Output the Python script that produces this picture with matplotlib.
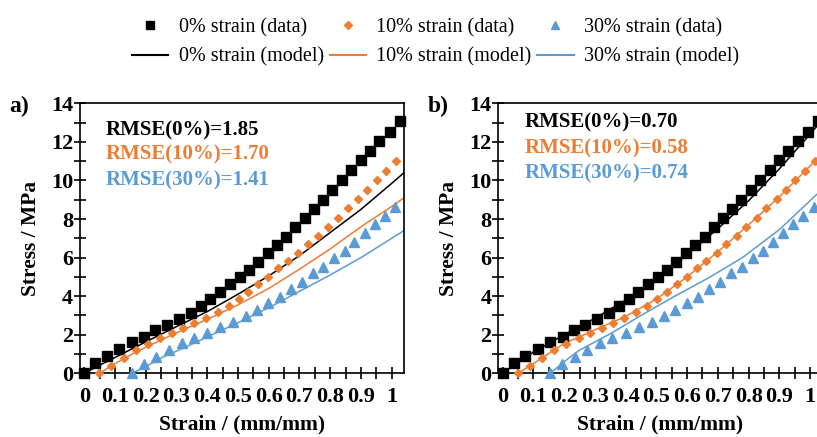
import numpy as np
import matplotlib
matplotlib.use("Agg")
import matplotlib.pyplot as plt
from matplotlib.ticker import MultipleLocator, FixedLocator, FixedFormatter

plt.rcParams['font.family'] = ['Liberation Serif', 'DejaVu Serif']

# --- experimental data (same in both panels) ---
strain_0 = [0, 0.036, 0.074, 0.114, 0.155, 0.195, 0.231, 0.268, 0.308, 0.346,
            0.379, 0.410, 0.440, 0.473, 0.506, 0.536, 0.565, 0.597, 0.627, 0.657,
            0.686, 0.717, 0.747, 0.776, 0.807, 0.838, 0.868, 0.899, 0.928, 0.960,
            0.993, 1.026]
stress_0 = [0, 0.55, 0.91, 1.24, 1.61, 1.90, 2.24, 2.50, 2.80, 3.14,
            3.51, 3.85, 4.23, 4.61, 5.01, 5.36, 5.79, 6.22, 6.65, 7.08,
            7.60, 8.03, 8.52, 8.98, 9.50, 10.02, 10.54, 11.06, 11.52, 12.04,
            12.49, 13.09]

strain_10 = [0.049, 0.088, 0.128, 0.168, 0.207, 0.247, 0.285, 0.322, 0.358, 0.395,
             0.434, 0.471, 0.503, 0.533, 0.566, 0.598, 0.631, 0.663, 0.696, 0.728,
             0.761, 0.793, 0.826, 0.858, 0.891, 0.921, 0.952, 0.983, 1.015]
stress_10 = [0, 0.38, 0.81, 1.21, 1.52, 1.81, 2.07, 2.33, 2.59, 2.87,
             3.20, 3.50, 3.85, 4.23, 4.61, 5.01, 5.44, 5.84, 6.25, 6.70,
             7.12, 7.60, 8.03, 8.55, 9.02, 9.50, 10.02, 10.50, 11.00]

strain_30 = [0.155, 0.193, 0.234, 0.274, 0.317, 0.357, 0.400, 0.442, 0.485, 0.525,
             0.561, 0.598, 0.636, 0.672, 0.707, 0.744, 0.777, 0.813, 0.847, 0.878,
             0.912, 0.945, 0.977, 1.012]
stress_30 = [0, 0.48, 0.86, 1.21, 1.55, 1.81, 2.10, 2.38, 2.68, 2.99,
             3.28, 3.66, 3.97, 4.35, 4.75, 5.18, 5.53, 5.96, 6.36, 6.82,
             7.29, 7.72, 8.15, 8.64]

# --- model curves, panel a ---
model_a_0_x = [0, 0.05, 0.1, 0.2, 0.3, 0.4, 0.5, 0.6, 0.7, 0.8, 0.9, 1.0, 1.04]
model_a_0_y = [0, 0.42, 0.82, 1.63, 2.42, 3.2, 4.1, 5.05, 6.1, 7.3, 8.5, 9.85, 10.4]
model_a_10_x = [0.05, 0.1, 0.15, 0.2, 0.3, 0.4, 0.5, 0.6, 0.7, 0.8, 0.9, 1.0, 1.04]
model_a_10_y = [0, 0.5, 0.95, 1.35, 2.1, 2.8, 3.55, 4.4, 5.4, 6.45, 7.6, 8.65, 9.1]
model_a_30_x = [0.155, 0.2, 0.258, 0.3, 0.4, 0.5, 0.6, 0.7, 0.8, 0.9, 1.0, 1.04]
model_a_30_y = [0, 0.35, 0.86, 1.15, 1.88, 2.62, 3.4, 4.25, 5.1, 6.0, 7.0, 7.4]

# --- model curves, panel b ---
model_b_0_x = [0, 0.1, 0.2, 0.3, 0.4, 0.5, 0.6, 0.7, 0.8, 0.9, 1.0, 1.04]
model_b_0_y = [0, 1.1, 2.0, 2.85, 3.8, 4.9, 6.15, 7.5, 8.95, 10.6, 12.4, 13.15]
model_b_10_x = [0.05, 0.1, 0.2, 0.3, 0.4, 0.5, 0.6, 0.7, 0.8, 0.9, 1.0, 1.04]
model_b_10_y = [0, 0.5, 1.55, 2.25, 2.95, 3.85, 5.0, 6.3, 7.7, 9.15, 10.75, 11.45]
model_b_30_x = [0.155, 0.2, 0.25, 0.35, 0.45, 0.56, 0.67, 0.78, 0.9, 1.0, 1.04]
model_b_30_y = [0, 0.6, 1.2, 2.05, 3.0, 4.0, 4.95, 6.0, 7.45, 8.95, 9.55]

rmse_a = ["RMSE(0%)=1.85", "RMSE(10%)=1.70", "RMSE(30%)=1.41"]
rmse_b = ["RMSE(0%)=0.70", "RMSE(10%)=0.58", "RMSE(30%)=0.74"]

x_tick_labels = ['0', '0.1', '0.2', '0.3', '0.4', '0.5', '0.6', '0.7', '0.8', '0.9', '1']

BLACK = '#000000'
ORANGE = '#ED7D31'
BLUE = '#5B9BD5'


def draw_panel(ax, models, rmse, text_y, letter):
    """Dessine un panneau : données, modèles et annotations."""
    ax.plot(strain_0, stress_0, 's', color=BLACK, ms=6.5, clip_on=False, zorder=3)
    ax.plot(strain_10, stress_10, 'D', color=ORANGE, ms=4.5, clip_on=False, zorder=3)
    ax.plot(strain_30, stress_30, '^', color=BLUE, ms=7, clip_on=False, zorder=3)

    colors = [BLACK, ORANGE, BLUE]
    for (mx, my), c in zip(models, colors):
        ax.plot(mx, my, '-', color=c, lw=1.1, zorder=2)

    ax.set_xlim(-0.014, 1.04)
    ax.set_ylim(0, 14)

    ax.xaxis.set_major_locator(FixedLocator(np.round(np.arange(0, 1.01, 0.1), 2)))
    ax.xaxis.set_major_formatter(FixedFormatter(x_tick_labels))
    ax.xaxis.set_minor_locator(MultipleLocator(0.05))
    ax.yaxis.set_major_locator(MultipleLocator(2))
    ax.yaxis.set_minor_locator(MultipleLocator(1))
    ax.tick_params(which='both', direction='inout', length=8, width=1.2)
    ax.tick_params(axis='x', pad=6)
    ax.tick_params(axis='y', pad=1)
    for lab in ax.get_xticklabels() + ax.get_yticklabels():
        lab.set_fontweight('bold')
        lab.set_fontsize(16)

    for sp in ax.spines.values():
        sp.set_linewidth(1.2)

    ax.set_xlabel('Strain / (mm/mm)', fontsize=15.5, fontweight='bold', labelpad=5)
    ax.set_ylabel('Stress / MPa', fontsize=15.5, fontweight='bold', labelpad=7)

    for txt, ty, c in zip(rmse, text_y, colors):
        ax.text(0.07, ty, txt, color=c, fontsize=15, fontweight='bold',
                va='center', ha='left')

    ax.text(-0.245, 13.85, letter, fontsize=17, fontweight='bold',
            va='center', ha='left')


fig = plt.figure(figsize=(8.17, 4.37), dpi=100)
ax_a = fig.add_axes([0.0979, 0.1458, 0.3966, 0.6178])
ax_b = fig.add_axes([0.6100, 0.1458, 0.3966, 0.6178])

draw_panel(ax_a,
           [(model_a_0_x, model_a_0_y), (model_a_10_x, model_a_10_y), (model_a_30_x, model_a_30_y)],
           rmse_a, [12.6, 11.37, 10.02], 'a)')
draw_panel(ax_b,
           [(model_b_0_x, model_b_0_y), (model_b_10_x, model_b_10_y), (model_b_30_x, model_b_30_y)],
           rmse_b, [13.0, 11.65, 10.35], 'b)')

# Légende commune en haut (ordre colonne par colonne)
handles = [
    plt.Line2D([], [], ls='none', marker='s', color=BLACK, ms=5.5),
    plt.Line2D([], [], color=BLACK, lw=1.5),
    plt.Line2D([], [], ls='none', marker='D', color=ORANGE, ms=4),
    plt.Line2D([], [], color=ORANGE, lw=1.5),
    plt.Line2D([], [], ls='none', marker='^', color=BLUE, ms=5.5),
    plt.Line2D([], [], color=BLUE, lw=1.5),
]
labels = ['0% strain (data)', '0% strain (model)',
          '10% strain (data)', '10% strain (model)',
          '30% strain (data)', '30% strain (model)']
fig.legend(handles, labels, ncol=3, loc='upper center', bbox_to_anchor=(0.533, 1.0),
           frameon=False, fontsize=14.5, handlelength=1.8, handletextpad=0.5,
           columnspacing=0.3, labelspacing=0.5)

fig.savefig('out.png', dpi=100)
